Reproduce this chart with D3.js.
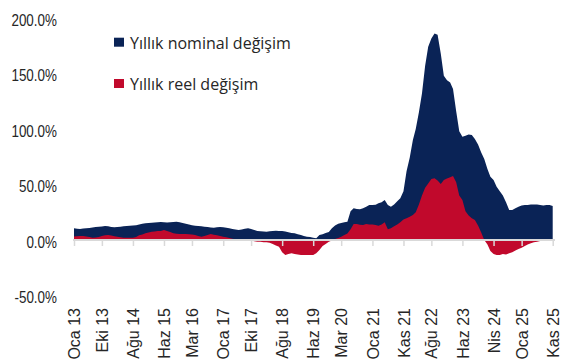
<!DOCTYPE html>
<html><head><meta charset="utf-8">
<script src="https://cdn.jsdelivr.net/npm/d3@7"></script>
<style>
html,body{margin:0;padding:0;background:#fff;}
svg{display:block;font-family:"Open Sans",sans-serif;}
</style></head>
<body><svg id="c" width="569" height="364"></svg>
<script>
// Monthly series, Jan 2013 .. Nov 2025 (%)
const startMonth = "2013-01";
const nominal = [
 10.5,10.2,10.0,10.3,10.6,10.8,11.2,11.8,12.0,12.2,12.6,12.3,
 11.8,11.4,11.6,12.0,12.4,12.6,12.8,13.0,13.4,14.0,14.6,15.0,
 15.4,15.6,15.8,16.0,16.2,16.0,15.8,16.0,16.2,16.4,16.0,15.4,
 14.6,14.0,13.4,12.8,12.6,12.4,12.0,11.6,11.2,11.0,11.4,11.6,
 11.4,11.0,10.6,10.0,9.4,9.0,9.4,10.2,10.5,9.8,9.0,8.2,
 7.8,7.6,7.5,7.8,8.2,8.4,8.2,8.0,7.6,7.0,6.4,6.0,
 5.2,4.4,3.6,3.0,2.6,2.0,1.5,4.5,5.2,6.4,7.2,10.5,
 13.0,14.6,15.4,16.0,16.5,26.0,28.5,28.0,27.7,28.5,30.0,31.5,
 31.5,31.8,33.0,34.0,36.0,31.5,30.0,32.0,35.0,37.6,44.0,62.0,
 74,90,100,115,132,157,174,181.5,186,185,168,148,
 144,142,136,116,98,93,94,95,94.5,91,86,79,
 73,64,57,54,48,44,40,34,27,27,28.5,30,
 31,31.5,31.5,32,32,32,31.5,31,31.5,31.5,30.6
];
const real = [
 3.2,3.4,3.6,3.6,3.2,2.6,2.0,2.2,2.8,3.6,4.2,4.4,
 4.0,3.4,3.0,2.4,2.0,2.0,2.0,2.0,2.6,4.2,5.0,6.0,
 6.8,7.4,7.6,8.0,8.2,9.0,8.0,7.2,6.0,5.6,5.4,5.4,
 5.4,5.2,5.0,4.4,3.6,3.0,3.6,4.5,5.4,4.8,4.2,3.6,
 3.0,2.4,1.8,1.2,0.6,0.2,0.0,-1.0,0.0,-0.5,-1.2,-1.6,
 -1.5,-2.0,-2.0,-2.5,-3.5,-5.0,-6.0,-11.0,-13.5,-12.5,-12.0,-12.5,
 -13.0,-13.5,-13.5,-13.5,-13.5,-13.5,-12.0,-9.0,-5.5,-3.5,-1.5,-0.5,
 0.8,1.8,3.0,4.5,5.8,9.6,14.4,14.5,13.8,13.5,14.5,14.0,
 14.0,13.5,12.8,14.0,16.0,9.6,10.5,12.5,14.0,16.0,18.5,19.5,
 21,22.5,25,32,40,47,51,55,55.6,53.5,50.5,54,
 55.5,56.5,57.7,52,40,36,26,22,19.5,18,13,7,
 0,-4,-10,-12.5,-13.5,-13.5,-12.5,-13,-12,-11,-9.5,-8,
 -7,-5.5,-4,-3,-2,-1.5,-1,-0.6,-0.3,0,0.1
];
const seriesNames = ["Yıllık nominal değişim", "Yıllık reel değişim"];
const colors = ["#0a2356", "#c1092c"];
const monthAbbr = ["Oca","Şub","Mar","Nis","May","Haz","Tem","Ağu","Eyl","Eki","Kas","Ara"];
const tickMonths = ["2013-01","2013-10","2014-08","2015-06","2016-03","2017-01","2017-10","2018-08","2019-06","2020-03","2021-01","2021-11","2022-08","2023-06","2024-04","2025-01","2025-11"];
const yTicks = [-50, 0, 50, 100, 150, 200];

const parse = d3.timeParse("%Y-%m");
const t0 = parse(startMonth);
const dates = nominal.map((_, i) => d3.timeMonth.offset(t0, i));
const data = dates.map((d, i) => ({date: d, nom: nominal[i], real: real[i]}));

const svg = d3.select("#c");
const x = d3.scaleTime().domain([dates[0], dates[dates.length-1]]).range([74, 552.7]);
const y = d3.scaleLinear().domain([-50, 200]).range([295.5, 18]);

svg.append("path").datum(data)
  .attr("fill", colors[0])
  .attr("d", d3.area().x(d => x(d.date)).y0(y(0)).y1(d => y(d.nom)));
svg.append("path").datum(data)
  .attr("fill", colors[1])
  .attr("d", d3.area().x(d => x(d.date)).y0(y(0)).y1(d => y(d.real)));

// x axis
const xa = svg.append("g").attr("transform", `translate(0,${y(0)})`)
  .call(d3.axisBottom(x).tickValues(tickMonths.map(parse)).tickSize(6).tickSizeOuter(0)
    .tickFormat(d => monthAbbr[d.getMonth()] + " " + d3.timeFormat("%y")(d)));
xa.select(".domain").attr("stroke", "#d9d9d9").attr("stroke-width", 2)
  .attr("d", `M73,0H555`);
xa.selectAll(".tick line").attr("stroke", "#d9d9d9").attr("stroke-width", 1.5);
xa.selectAll(".tick text")
  .attr("font-size", 16).attr("fill", "#262626")
  .attr("text-anchor", "end")
  .attr("transform", "rotate(-90)")
  .attr("x", -(308 - y(0))).attr("y", 0).attr("dy", "0.35em");

// y axis labels
const ya = svg.append("g").attr("transform", "translate(57,0)")
  .call(d3.axisLeft(y).tickValues(yTicks).tickSize(0).tickPadding(0)
    .tickFormat(d => d3.format(".1f")(d).replace("\u2212", "-") + "%"));
ya.select(".domain").remove();
ya.selectAll(".tick text").attr("font-size", 16).attr("fill", "#262626")
  .attr("transform", "scale(0.84,1)").attr("dy", "0.45em");

// legend
const leg = svg.append("g");
[[37.7, 43], [79, 84]].forEach((p, i) => {
  leg.append("rect").attr("x", 114).attr("y", p[0]).attr("width", 10).attr("height", 9).attr("fill", colors[i]);
  leg.append("text").attr("x", 130).attr("y", p[1]).attr("dy", "0.35em")
    .attr("font-size", 16).attr("fill", "#262626").text(seriesNames[i]);
});
</script></body></html>
